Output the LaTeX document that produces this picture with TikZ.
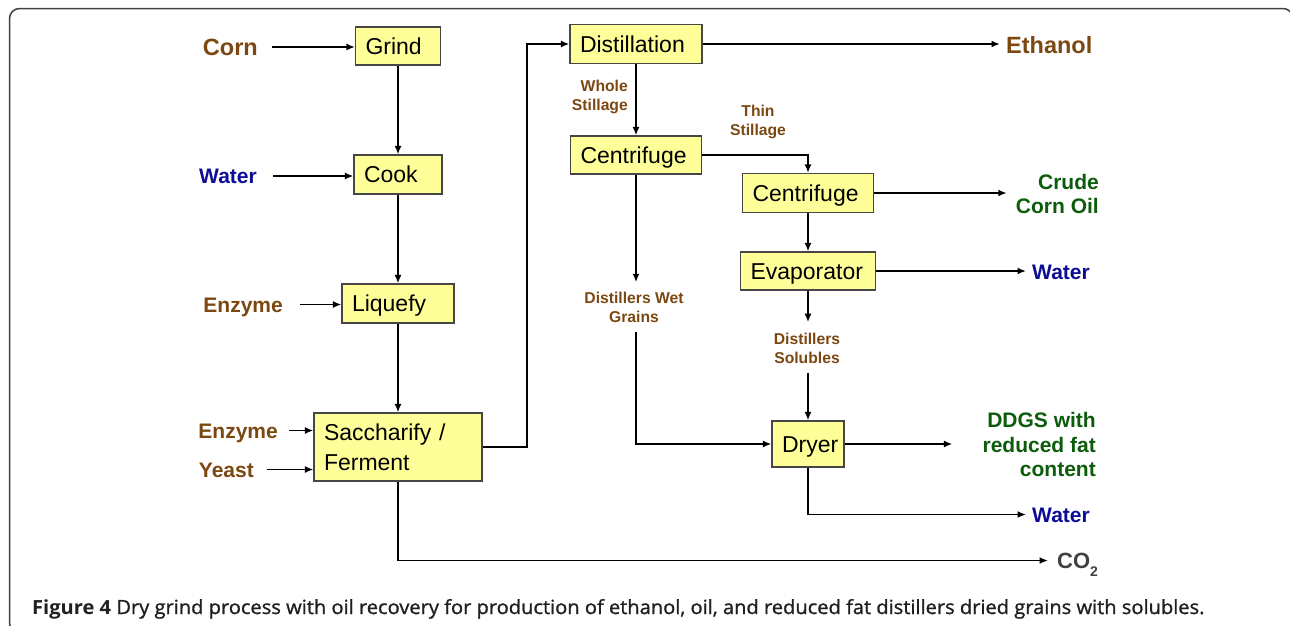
\documentclass[tikz,border=0pt]{standalone}
\usepackage{fontspec}
\setmainfont{Liberation Sans}
\newfontfamily\capfont[FakeStretch=1.03]{Open Sans}
\newfontfamily\capmed[FakeBold=1.2,FakeStretch=1.03]{Open Sans}
\usetikzlibrary{arrows.meta}
\definecolor{lbrown}{RGB}{124,72,18}
\definecolor{lblue}{RGB}{12,12,150}
\definecolor{lgreen}{RGB}{12,92,12}
\definecolor{boxfill}{RGB}{255,255,153}
\definecolor{boxline}{RGB}{70,70,70}
\definecolor{cogrey}{RGB}{64,64,64}
\definecolor{capgrey}{RGB}{35,31,32}
\tikzset{
  arr/.style={line width=1.8pt,-{Latex[length=8.5pt,width=7pt]}},
  procbox/.style={draw=boxline,fill=boxfill,line width=1.2pt,inner xsep=10pt,inner ysep=0pt,
     align=left,font=\fontsize{23}{30}\selectfont},
  onebox/.style={procbox,text height=16.5pt,text depth=0pt},
  biglab/.style={inner sep=0pt,font=\bfseries\fontsize{23.5}{28}\selectfont,text height=16.8pt,text depth=0pt},
  midlab/.style={inner sep=0pt,font=\bfseries\fontsize{21}{24}\selectfont,text height=15pt,text depth=0pt},
  multlab/.style={inner sep=0pt,font=\bfseries\fontsize{21}{24.5}\selectfont},
  smalllab/.style={inner sep=0pt,font=\bfseries\fontsize{15.7}{19}\selectfont,text=lbrown,align=center}
}
\begin{document}
\begin{tikzpicture}[x=1pt,y=-1pt]
\useasboundingbox (0,0) rectangle (1290,625);
\begin{scope}
\clip (0,0) rectangle (1290,625);
\draw[line width=1.5pt,draw=black!75,rounded corners=10pt] (9.5,8.5) rectangle (1293,633);
\end{scope}
% process boxes
\node[onebox,minimum width=85pt,minimum height=38pt,text width=65pt] (grind) at (398,46) {Grind};
\node[onebox,minimum width=88pt,minimum height=39pt,text width=68pt] (cook) at (398,174.5) {Cook};
\node[onebox,minimum width=112pt,minimum height=39pt,text width=92pt] (liquefy) at (398,303.5) {Liquefy};
\node[procbox,minimum width=168pt,minimum height=68pt,text width=148pt] (sacc) at (398,447) {Saccharify /\\Ferment};
\node[onebox,minimum width=132pt,minimum height=39pt,text width=112pt] (distill) at (636,44) {Distillation};
\node[onebox,minimum width=131pt,minimum height=38pt,text width=111pt] (centa) at (636,155) {Centrifuge};
\node[onebox,minimum width=131pt,minimum height=39pt,text width=111pt] (centb) at (808,193) {Centrifuge};
\node[onebox,minimum width=135pt,minimum height=38pt,text width=115pt] (evap) at (808,271) {Evaporator};
\node[onebox,minimum width=72pt,minimum height=46pt,text width=52pt] (dryer) at (808,444) {Dryer};
% input labels
\node[biglab,text=lbrown,anchor=east] (corn) at (258,47) {Corn};
\node[midlab,text=lblue,anchor=east] (waterin) at (257,176) {Water};
\node[midlab,text=lbrown,anchor=east] (enzymea) at (283,304.5) {Enzyme};
\node[midlab,text=lbrown,anchor=east] (enzymeb) at (278,430.5) {Enzyme};
\node[midlab,text=lbrown,anchor=east] (yeast) at (254,469.5) {Yeast};
% output labels
\node[biglab,text=lbrown,anchor=west] (ethanol) at (1006,45) {Ethanol};
\node[multlab,text=lgreen,anchor=east,align=right] (oil) at (1099,194) {Crude\\Corn Oil};
\node[midlab,text=lblue,anchor=west] (watera) at (1032,272) {Water};
\node[multlab,text=lgreen,anchor=east,align=right] (ddgs) at (1096,444.5) {DDGS with\\reduced fat\\content};
\node[midlab,text=lblue,anchor=west] (waterb) at (1032,514.5) {Water};
\node[biglab,text=cogrey,anchor=west,font=\bfseries\fontsize{22}{26}\selectfont] (co2) at (1057,560.5) {CO\raisebox{-8pt}{\fontsize{14}{14}\selectfont 2}};
% stream labels
\node[smalllab,anchor=north east,align=right] (whole) at (628,79.5) {Whole\\Stillage};
\node[smalllab,anchor=north] (thin) at (758,104.5) {Thin\\Stillage};
\node[smalllab,anchor=north] (dwg) at (634,292.3) {Distillers Wet\\Grains};
\node[smalllab,anchor=north] (ds) at (807,332.7) {Distillers\\Solubles};
\coordinate (riser) at (527,0);
% connectors
\draw[arr,shorten <=14pt] (corn.east) -- (corn.east -| grind.west);
\draw[arr,shorten <=16pt] (waterin.east) -- (waterin.east -| cook.west);
\draw[arr,shorten <=17pt] (enzymea.east) -- (enzymea.east -| liquefy.west);
\draw[arr,shorten <=11pt] (enzymeb.east) -- (enzymeb.east -| sacc.west);
\draw[arr,shorten <=13pt] (yeast.east) -- (yeast.east -| sacc.west);
\draw[arr] (grind.south) -- (grind.south |- cook.north);
\draw[arr] (cook.south) -- (cook.south |- liquefy.north);
\draw[arr] (liquefy.south) -- (liquefy.south |- sacc.north);
\draw[arr] (sacc.east) -- (sacc.east -| riser) -- (riser |- distill.west) -- (distill.west);
\draw[arr,shorten >=9pt] (sacc.south) |- (co2.west);
\draw[arr,shorten >=6pt] (distill.east) -- (distill.east -| ethanol.west);
\draw[arr] (distill.south) -- (distill.south |- centa.north);
\draw[arr] (centa.east) -| (centb.north);
\draw[arr,shorten >=9pt] (centb.east) -- (centb.east -| oil.west);
\draw[arr] (centb.south) -- (centb.south |- evap.north);
\draw[arr,shorten >=6pt] (evap.east) -- (evap.east -| watera.west);
\draw[arr,shorten >=10pt] (centa.south) -- (centa.south |- dwg.north);
\draw[arr,shorten <=9pt] (centa.south |- dwg.south) |- (dryer.west);
\draw[arr,shorten >=10.5pt] (evap.south -| dryer.north) -- (dryer.north |- ds.north);
\draw[arr,shorten <=9pt] (dryer.north |- ds.south) -- (dryer.north);
\draw[arr,shorten >=30pt] (dryer.east) -- (dryer.east -| ddgs.west);
\draw[arr,shorten >=6pt] (dryer.south) |- (waterb.west);
% caption
\node[anchor=base west,inner sep=0pt,text=capgrey,font=\capmed\fontsize{19.5}{22}\selectfont] (caption) at (32,614)
  {{\capfont\bfseries Figure 4} Dry grind process with oil recovery for production of ethanol, oil, and reduced fat distillers dried grains with solubles.};
\end{tikzpicture}
\end{document}
